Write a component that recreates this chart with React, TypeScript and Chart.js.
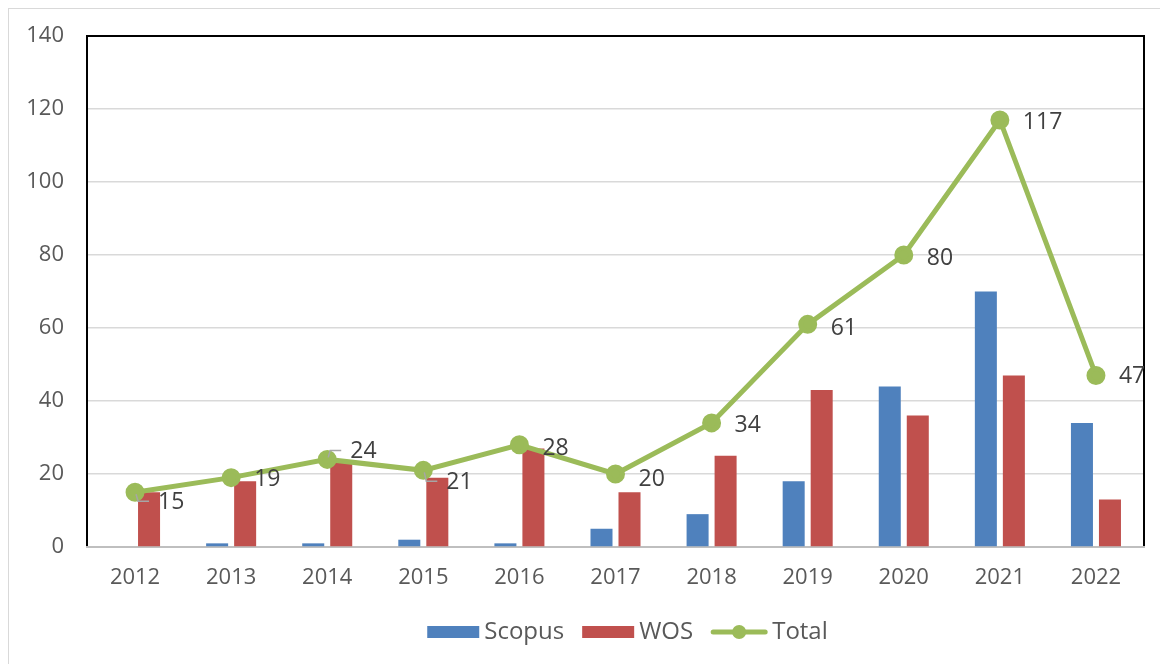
import React, { useEffect, useRef } from "react";
import { Chart, registerables } from "chart.js";

Chart.register(...registerables);

const years = ["2012", "2013", "2014", "2015", "2016", "2017", "2018", "2019", "2020", "2021", "2022"];
const scopus = [0, 1, 1, 2, 1, 5, 9, 18, 44, 70, 34];
const wos = [15, 18, 23, 19, 27, 15, 25, 43, 36, 47, 13];
const total = [15, 19, 24, 21, 28, 20, 34, 61, 80, 117, 47];
const labelShiftY = [9, 1, -9, 11, 3, 4, 2, 3, 2, 2, 0];
const seriesNames = ["Scopus", "WOS", "Total"];

const BLUE = "#4F81BD";
const RED = "#C0504D";
const GREEN = "#9BBB59";
const FONT = "'Open Sans', sans-serif";

const borderPlugin = {
  id: "plotBorder",
  beforeDatasetsDraw(chart: any) {
    const { ctx, chartArea: a } = chart;
    ctx.save();
    ctx.lineWidth = 2;
    ctx.strokeStyle = "#000";
    ctx.beginPath();
    ctx.moveTo(a.left, a.bottom);
    ctx.lineTo(a.left, a.top);
    ctx.lineTo(a.right, a.top);
    ctx.lineTo(a.right, a.bottom);
    ctx.stroke();
    ctx.strokeStyle = "#bfbfbf";
    ctx.beginPath();
    ctx.moveTo(a.left - 1, a.bottom);
    ctx.lineTo(a.right + 1, a.bottom);
    ctx.stroke();
    ctx.restore();
  },
};

const labelPlugin = {
  id: "totalLabels",
  afterDatasetsDraw(chart: any) {
    const meta = chart.getDatasetMeta(2);
    const ctx = chart.ctx;
    ctx.save();
    meta.data.forEach((pt: any, i: number) => {
      const dy = labelShiftY[i];
      if (Math.abs(dy) >= 9) {
        ctx.strokeStyle = "#a6a6a6";
        ctx.lineWidth = 1.5;
        ctx.beginPath();
        ctx.moveTo(pt.x + 1, pt.y + Math.sign(dy) * 2);
        ctx.lineTo(pt.x + 3, pt.y + dy);
        ctx.lineTo(pt.x + 14, pt.y + dy);
        ctx.stroke();
      }
    });
    ctx.font = `23px ${FONT}`;
    ctx.fillStyle = "#404040";
    ctx.textAlign = "left";
    ctx.textBaseline = "middle";
    meta.data.forEach((pt: any, i: number) => {
      ctx.fillText(String(total[i]), pt.x + 23, pt.y + labelShiftY[i] + 1);
    });
    ctx.restore();
  },
};

const legendPlugin = {
  id: "customLegend",
  afterDraw(chart: any) {
    const { ctx, chartArea: a } = chart;
    ctx.save();
    ctx.font = `24px ${FONT}`;
    ctx.textBaseline = "middle";
    ctx.textAlign = "left";
    const iconW = [52, 52, 56];
    const gapIcon = 5;
    const gapItem = 18;
    let width = 0;
    seriesNames.forEach((n, i) => {
      width += iconW[i] + gapIcon + ctx.measureText(n).width + (i < 2 ? gapItem : 0);
    });
    const cy = a.bottom + 85;
    let x = (a.left + a.right) / 2 + 12 - width / 2;
    const colors = [BLUE, RED, GREEN];
    seriesNames.forEach((n, i) => {
      if (i < 2) {
        ctx.fillStyle = colors[i];
        ctx.fillRect(x, cy - 6, iconW[i], 12);
      } else {
        ctx.strokeStyle = colors[i];
        ctx.lineWidth = 5;
        ctx.lineCap = "round";
        ctx.beginPath();
        ctx.moveTo(x + 2, cy);
        ctx.lineTo(x + iconW[i] - 2, cy);
        ctx.stroke();
        ctx.fillStyle = colors[i];
        ctx.beginPath();
        ctx.arc(x + iconW[i] / 2, cy, 7, 0, Math.PI * 2);
        ctx.fill();
      }
      x += iconW[i] + gapIcon;
      ctx.fillStyle = "#595959";
      ctx.fillText(n, x, cy);
      x += ctx.measureText(n).width + gapItem;
    });
    ctx.restore();
  },
};

export default function App() {
  const ref = useRef<HTMLCanvasElement>(null);
  useEffect(() => {
    const chart = new Chart(ref.current!, {
      type: "bar",
      data: {
        labels: years,
        datasets: [
          { label: "Scopus", data: scopus, backgroundColor: BLUE, order: 1, categoryPercentage: 0.583, barPercentage: 0.786 },
          { label: "WOS", data: wos, backgroundColor: RED, order: 1, categoryPercentage: 0.583, barPercentage: 0.786 },
          {
            type: "line",
            label: "Total",
            data: total,
            borderColor: GREEN,
            backgroundColor: GREEN,
            borderWidth: 5,
            pointRadius: 7,
            pointBackgroundColor: GREEN,
            pointBorderColor: GREEN,
            order: 0,
          } as any,
        ],
      },
      options: {
        responsive: false,
        animation: false,
        layout: { padding: { top: 27, right: 24, left: 0, bottom: 51 } },
        scales: {
          x: {
            grid: { display: false, drawTicks: false },
            border: { display: false },
            ticks: { color: "#595959", font: { family: FONT, size: 22 }, padding: 18 },
            afterFit(s: any) {
              s.height = 66;
              s.paddingLeft = 0;
              s.paddingRight = 0;
            },
          },
          y: {
            min: 0,
            max: 140,
            grid: { color: "#d9d9d9", lineWidth: 1.5, drawTicks: false },
            border: { display: false },
            ticks: { stepSize: 20, color: "#595959", font: { family: FONT, size: 22 }, padding: 23 },
            afterFit(s: any) {
              s.width = 78;
              s.paddingTop = 0;
              s.paddingBottom = 0;
            },
          },
        },
        plugins: {
          tooltip: { enabled: false },
          legend: { display: false },
        },
      },
      plugins: [borderPlugin, labelPlugin, legendPlugin],
    });
    return () => chart.destroy();
  }, []);
  return (
    <div
      style={{
        width: 1160,
        height: 656,
        borderTop: "1px solid #d9d9d9",
        borderLeft: "1px solid #d9d9d9",
        boxSizing: "border-box",
        overflow: "hidden",
      }}
    >
      <canvas ref={ref} width={1159} height={655} style={{ display: "block" }} />
    </div>
  );
}
